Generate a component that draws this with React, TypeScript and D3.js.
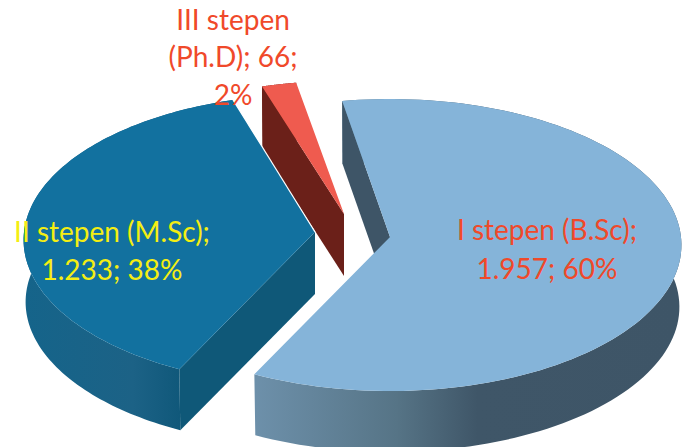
import React from "react";
import * as d3 from "d3";

// Enrolment by degree level
const categories = ["I stepen (B.Sc)", "II stepen (M.Sc)", "III stepen (Ph.D)"];
const studentCounts = [1957, 1233, 66];
const valueLabels = ["1.957", "1.233", "66"];
const percentLabels = ["60%", "38%", "2%"];

const WIDTH = 682;
const HEIGHT = 447;
const FONT = "Lato, 'Open Sans', sans-serif";

// Oblique view of the pie: back of the disc is foreshortened against the front.
const RX = 291;
const PERSPECTIVE = 0.055;
const FIRST_ANGLE = (-10 * Math.PI) / 180;
const LOWER_RIM_SCALE = 0.993;

const wedges = [
  { apex: [390, 237], ry: 146, depth: 62, top: "#85b4d9", cut: "#3e5567", wall: "url(#wallOne)" },
  { apex: [315, 232], ry: 146, depth: 62, top: "#12719f", cut: "#0f5878", wall: "url(#wallTwo)" },
  { apex: [344, 214], ry: 141, depth: 62, top: "#ef5b4f", cut: "#6b2019", wall: "#6b2019" },
];

const textBlocks = [
  { color: "#f0492a", size: 28, lines: [
    { x: 547, y: 240, text: `${categories[0]};` },
    { x: 547, y: 279, text: `${valueLabels[0]}; ${percentLabels[0]}` },
  ] },
  { color: "#f4ee12", size: 28, lines: [
    { x: 112, y: 242, text: `${categories[1]};` },
    { x: 112, y: 280, text: `${valueLabels[1]}; ${percentLabels[1]}` },
  ] },
  { color: "#f0492a", size: 28, lines: [
    { x: 233, y: 30, text: "III stepen" },
    { x: 233, y: 67, text: `(Ph.D); ${valueLabels[2]};` },
    { x: 233, y: 105, text: percentLabels[2] },
  ] },
];

type Pt = [number, number];

// Projects a disc angle (0 at the back, clockwise) onto the picture plane.
function project(w: (typeof wedges)[number], t: number, drop = 0, shrink = 1): Pt {
  const s = 1 - PERSPECTIVE * Math.cos(t);
  return [
    w.apex[0] + RX * shrink * Math.sin(t) * s,
    w.apex[1] + drop - w.ry * shrink * Math.cos(t) * s,
  ];
}

const line = d3.line<Pt>();

export default function App() {
  const arcs = d3
    .pie<number>()
    .sort(null)
    .startAngle(FIRST_ANGLE)
    .endAngle(FIRST_ANGLE + 2 * Math.PI)(studentCounts);

  // Painted back to front: the small wedge sits behind its neighbours.
  const order = [2, 0, 1];

  return (
    <svg
      width={WIDTH}
      height={HEIGHT}
      viewBox={`0 0 ${WIDTH} ${HEIGHT}`}
      style={{ position: "absolute", left: 0, top: 0, background: "#fff" }}
    >
      <defs>
        <linearGradient id="wallOne" gradientUnits="userSpaceOnUse" x1={256} x2={682} y1={0} y2={0}>
          <stop offset="0" stopColor="#6d90aa" />
          <stop offset="0.33" stopColor="#567486" />
          <stop offset="0.52" stopColor="#3f5668" />
          <stop offset="1" stopColor="#3e5567" />
        </linearGradient>
        <linearGradient id="wallTwo" gradientUnits="userSpaceOnUse" x1={24} x2={180} y1={0} y2={0}>
          <stop offset="0" stopColor="#15648a" />
          <stop offset="0.7" stopColor="#1c6286" />
          <stop offset="1" stopColor="#10587a" />
        </linearGradient>
      </defs>

      {order.map((i) => {
        const w = wedges[i];
        const a = arcs[i];
        const steps = d3.range(0, 121).map((k) => a.startAngle + ((a.endAngle - a.startAngle) * k) / 120);
        const rim = steps.map((t) => project(w, t));
        const rimLow = steps.map((t) => project(w, t, w.depth, LOWER_RIM_SCALE));
        const apex = w.apex as Pt;
        const apexLow: Pt = [apex[0], apex[1] + w.depth];
        return (
          <g key={categories[i]}>
            <path d={`${line([...rim, ...rimLow.slice().reverse()])}Z`} fill={w.wall} />
            <path d={`${line([apex, rim[0], rimLow[0], apexLow])}Z`} fill={w.cut} />
            <path d={`${line([apex, ...rim])}Z`} fill={w.top} />
            {i === 1 && <path d={line([rim[120], apex]) ?? ""} fill="none" stroke="#fff" strokeWidth={1.2} />}
          </g>
        );
      })}

      {textBlocks.map((b, i) => (
        <text key={i} fill={b.color} fontFamily={FONT} fontSize={b.size} textAnchor="middle">
          {b.lines.map((l) => (
            <tspan key={l.text} x={l.x} y={l.y}>
              {l.text}
            </tspan>
          ))}
        </text>
      ))}
    </svg>
  );
}
